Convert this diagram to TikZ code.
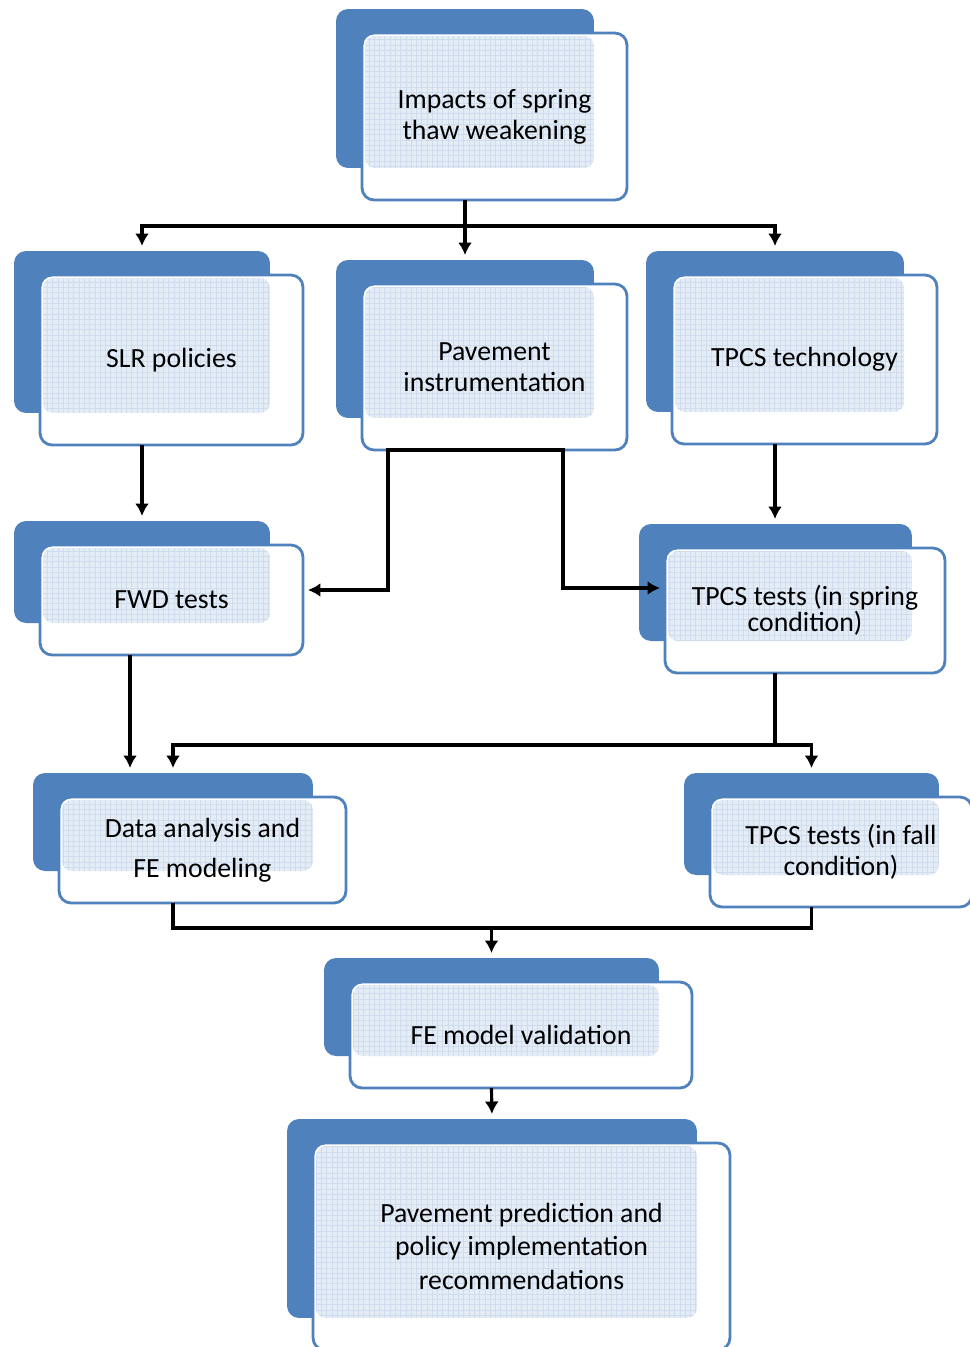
\documentclass[tikz,border=0pt]{standalone}
\usepackage{fontspec}
\setmainfont{Carlito}
\usepackage{xcolor}
\usetikzlibrary{arrows.meta, positioning, fit, backgrounds, patterns}
\definecolor{platecol}{RGB}{79,129,189}
\definecolor{tintcol}{RGB}{228,236,246}
\definecolor{gridcol}{RGB}{206,220,238}

\begin{document}
\begin{tikzpicture}[
        x=0.02cm, y=-0.02cm,
        card/.style={rectangle, rounded corners=0.24cm, draw=platecol, line width=1.6pt,
                     align=center, inner sep=0pt, outer sep=0pt,
                     font=\fontsize{15.8}{17.5}\selectfont},
        plate/.style={rectangle, rounded corners=0.24cm, fill=platecol,
                      inner sep=0pt, outer sep=0pt},
        tint/.style={rounded corners=0.2cm, fill=tintcol},
        wire/.style={line width=1.8pt, black},
        arr/.style={wire, -{Latex[length=0.25cm, width=0.28cm]}, shorten >=0.1cm},
      ]
        \useasboundingbox (0,0) rectangle (970,1347);

        % ── Top ──
        \node[card, minimum width=5.30cm, minimum height=3.34cm] (imp) at (494.5,116.5)
          {Impacts of spring\\thaw weakening};

        % ── Second row ──
        \node[card, minimum width=5.26cm, minimum height=3.40cm] (slr)  at (171.5,360)
          {SLR policies};
        \node[card, minimum width=5.30cm, minimum height=3.32cm] (pav)  at (494.5,367)
          {Pavement\\instrumentation};
        \node[card, minimum width=5.30cm, minimum height=3.38cm] (tech) at (804.5,359.5)
          {TPCS technology};

        % ── Tests ──
        \node[card, minimum width=5.26cm, minimum height=2.20cm] (fwd)    at (171.5,600)
          {FWD tests};
        \node[card, minimum width=5.60cm, minimum height=2.50cm] (spring) at (805,610.5)
          {TPCS tests (in spring\\[-3pt]condition)};

        % ── Analysis ──
        \node[card, minimum width=5.74cm, minimum height=2.12cm] (data) at (202.5,850)
          {Data analysis and\\[5pt]FE modeling};
        \node[card, minimum width=5.24cm, minimum height=2.20cm] (fall) at (841,852)
          {TPCS tests (in fall\\condition)};

        % ── Bottom ──
        \node[card, minimum width=6.84cm, minimum height=2.12cm] (val)  at (521,1035)
          {FE model validation};
        \node[card, minimum width=8.34cm, minimum height=4.14cm] (pred) at (521.5,1246.5)
          {Pavement prediction and\\[1pt]policy implementation\\[2pt]recommendations};

        % ── Plates behind the cards ──
        \begin{scope}[on background layer]
          \foreach \n in {imp,slr,pav,tech,fwd,spring,data,fall,val,pred} {
            \node[plate, fit={([shift={(-26,-24)}]\n.north west)
                              ([shift={(-33,-32)}]\n.south east)}] (\n-p) {};
            \fill[white, rounded corners=0.24cm] (\n.north west) rectangle (\n.south east);
            \fill[tint] ([shift={(3,3)}]\n.north west) rectangle (\n-p.south east);
            \fill[rounded corners=0.2cm, pattern=grid, pattern color=gridcol]
              ([shift={(3,3)}]\n.north west) rectangle (\n-p.south east);
          }
        \end{scope}

        % ── Connectors ──
        \coordinate (split1) at (imp-p |- 0,226);
        \draw[wire] (imp-p |- imp.south) -- (split1);
        \draw[arr] (split1) -| (slr-p.north);
        \draw[arr] (split1) -- (pav-p.north);
        \draw[arr] (split1) -| (tech-p.north);

        \draw[arr] (slr-p |- slr.south) -- (fwd-p.north);
        \draw[arr] (tech-p |- tech.south) -- (tech-p |- spring-p.north);

        \coordinate (pl) at (388,590);
        \coordinate (pr) at (563,588);
        \draw[arr] (pav-p |- pav.south) -| (pl) -- (pl -| fwd.east);
        \draw[arr] (pav-p |- pav.south) -| (pr) -- (pr -| spring.west);

        \coordinate (fd) at (130,700);
        \draw[arr] (fd |- fwd.south) -- (fd |- data-p.north);

        \coordinate (split2) at (tech-p |- 0,745);
        \draw[wire] (tech-p |- spring.south) -- (split2);
        \draw[arr] (split2) -| (data-p.north);
        \draw[arr] (split2) -| (fall-p.north);

        \coordinate (join) at (val-p |- 0,928);
        \draw[wire] (data-p |- data.south) |- (join);
        \draw[wire] (fall-p |- fall.south) |- (join);
        \draw[arr] (join) -- (val-p.north);

        \draw[arr] (val-p |- val.south) -- (pred-p.north);
      \end{tikzpicture}
\end{document}
